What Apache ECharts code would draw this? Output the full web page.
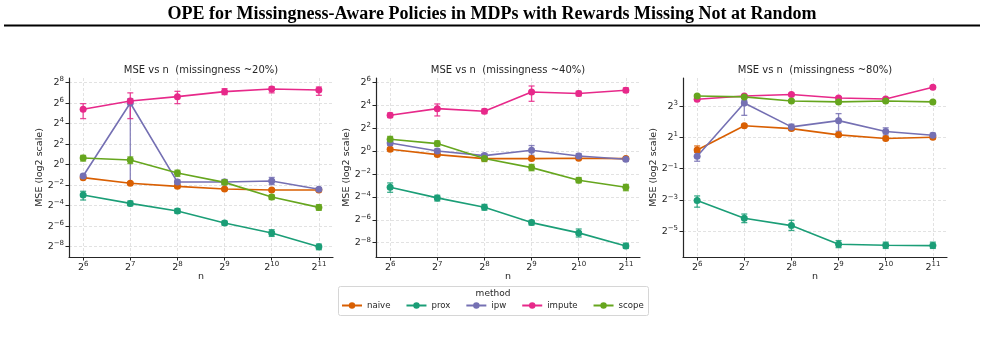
<!DOCTYPE html>
<html>
<head>
<meta charset="utf-8">
<title>OPE MSE vs n</title>
<script src="https://cdn.jsdelivr.net/npm/echarts@6/dist/echarts.min.js"></script>
<style>
    body { margin: 0; background: #fff; }
    #main { width: 985px; height: 351px; }
</style>
</head>
<body>
<div id="main"></div>
<script type="text/javascript">

// sample sizes (x axis, log2)
var nValues = [64, 128, 256, 512, 1024, 2048];
var methods = ['naive', 'prox', 'ipw', 'impute', 'scope'];
var colors = ['#d95f02', '#1b9e77', '#7570b3', '#e7298a', '#66a61e'];
var panelTitles = ['MSE vs n  (missingness ~20%)', 'MSE vs n  (missingness ~40%)', 'MSE vs n  (missingness ~80%)'];

// y tick exponents per panel
var yTicks20 = [-8, -6, -4, -2, 0, 2, 4, 6, 8];
var yTicks40 = [-8, -6, -4, -2, 0, 2, 4, 6];
var yTicks80 = [-5, -3, -1, 1, 3];
var xTicks = [6, 7, 8, 9, 10, 11];

// log2(MSE)
var naive20  = [-1.27, -1.82, -2.12, -2.38, -2.47, -2.47];
var prox20   = [-2.96, -3.78, -4.52, -5.69, -6.67, -8.0];
var ipw20    = [-1.11, 6.01, -1.7, -1.7, -1.6, -2.41];
var impute20 = [5.4, 6.2, 6.63, 7.12, 7.38, 7.28];
var scope20  = [0.65, 0.45, -0.82, -1.73, -3.16, -4.17];

var naive40  = [0.17, -0.29, -0.64, -0.64, -0.61, -0.64];
var prox40   = [-3.15, -4.08, -4.9, -6.24, -7.14, -8.28];
var ipw40    = [0.73, 0.03, -0.38, 0.09, -0.41, -0.7];
var impute40 = [3.15, 3.73, 3.5, 5.19, 5.05, 5.34];
var scope40  = [1.05, 0.67, -0.64, -1.43, -2.54, -3.15];

var naive80  = [0.2, 1.75, 1.57, 1.17, 0.94, 1.02];
var prox80   = [-3.04, -4.17, -4.64, -5.83, -5.9, -5.92];
var ipw80    = [-0.2, 3.21, 1.68, 2.08, 1.38, 1.14];
var impute80 = [3.45, 3.66, 3.75, 3.53, 3.47, 4.22];
var scope80  = [3.66, 3.6, 3.34, 3.28, 3.34, 3.28];

// error bars [low, high] in log2 units
var naive20Err  = [[-1.4, -1.15], [-1.95, -1.7], [-2.25, -2.0], [-2.5, -2.27], [-2.58, -2.37], [-2.58, -2.37]];
var prox20Err   = [[-3.45, -2.6], [-4.0, -3.55], [-4.75, -4.3], [-5.9, -5.5], [-7.0, -6.35], [-8.3, -7.75]];
var ipw20Err    = [[-1.3, -0.95], [-1.85, 6.44], [-1.9, -1.5], [-1.95, -1.45], [-1.95, -1.25], [-2.6, -2.25]];
var impute20Err = [[4.49, 5.95], [4.49, 7.0], [5.95, 7.15], [6.83, 7.41], [7.0, 7.6], [6.76, 7.57]];
var scope20Err  = [[0.35, 0.9], [0.1, 0.75], [-1.15, -0.55], [-1.95, -1.5], [-3.4, -2.95], [-4.45, -3.9]];

var naive40Err  = [[0.05, 0.3], [-0.42, -0.17], [-0.75, -0.53], [-0.75, -0.53], [-0.72, -0.5], [-0.75, -0.53]];
var prox40Err   = [[-3.59, -2.77], [-4.35, -3.85], [-5.15, -4.65], [-6.45, -6.05], [-7.5, -6.8], [-8.5, -8.05]];
var ipw40Err    = [[0.5, 0.95], [-0.15, 0.2], [-0.55, -0.2], [-0.35, 0.5], [-0.6, -0.2], [-0.85, -0.55]];
var impute40Err = [[2.95, 3.35], [3.09, 4.14], [3.3, 3.7], [4.37, 5.71], [4.85, 5.25], [5.15, 5.55]];
var scope40Err  = [[0.8, 1.3], [0.45, 0.9], [-0.9, -0.4], [-1.7, -1.15], [-2.75, -2.3], [-3.45, -2.9]];

var naive80Err  = [[0.04, 0.46], [1.65, 1.85], [1.47, 1.67], [1.07, 1.27], [0.84, 1.04], [0.92, 1.12]];
var prox80Err   = [[-3.46, -2.74], [-4.45, -3.9], [-4.95, -4.3], [-6.05, -5.6], [-6.1, -5.7], [-6.1, -5.7]];
var ipw80Err    = [[-0.52, 0.08], [2.42, 3.38], [1.5, 1.85], [1.4, 2.53], [1.15, 1.62], [1.0, 1.28]];
var impute80Err = [[3.37, 3.53], [3.58, 3.74], [3.67, 3.83], [3.45, 3.61], [3.39, 3.55], [4.14, 4.3]];
var scope80Err  = [[3.58, 3.74], [3.52, 3.68], [3.26, 3.42], [3.2, 3.36], [3.26, 3.42], [3.2, 3.36]];

var panelValues = [
    [naive20, prox20, ipw20, impute20, scope20],
    [naive40, prox40, ipw40, impute40, scope40],
    [naive80, prox80, ipw80, impute80, scope80]
];
var panelErrors = [
    [naive20Err, prox20Err, ipw20Err, impute20Err, scope20Err],
    [naive40Err, prox40Err, ipw40Err, impute40Err, scope40Err],
    [naive80Err, prox80Err, ipw80Err, impute80Err, scope80Err]
];
var panelYTicks = [yTicks20, yTicks40, yTicks80];
var panelYRange = [[-9.01, 8.45], [-9.25, 6.41], [-6.65, 4.81]];

// layout of the three axes boxes
var gridLeft = [69, 376, 683];
var gridWidth = 264;
var gridTop = 78;
var gridHeight = 179;

var font = 'DejaVu Sans';
var textColor = '#262626';

function powLabel(v) {
    var e = Math.round(v);
    var s = e < 0 ? '\u2212' + (-e) : '' + e;
    return '2{s|' + s + '}';
}

var labelStyle = {
    color: textColor,
    fontFamily: font,
    fontSize: 9.5,
    lineHeight: 13,
    formatter: powLabel,
    rich: { s: { fontSize: 7, lineHeight: 5, verticalAlign: 'top', fontFamily: font, color: textColor } }
};

function renderErr(params, api) {
    var x = api.value(0);
    var p1 = api.coord([x, api.value(1)]);
    var p2 = api.coord([x, api.value(2)]);
    var st = { stroke: api.visual('color'), lineWidth: 1.3, opacity: 0.85 };
    return {
        type: 'group',
        children: [
            { type: 'line', shape: { x1: p1[0], y1: p1[1], x2: p2[0], y2: p2[1] }, style: st },
            { type: 'line', shape: { x1: p1[0] - 3, y1: p1[1], x2: p1[0] + 3, y2: p1[1] }, style: st },
            { type: 'line', shape: { x1: p2[0] - 3, y1: p2[1], x2: p2[0] + 3, y2: p2[1] }, style: st }
        ]
    };
}

var grids = [], xAxes = [], yAxes = [], series = [], graphics = [];

for (var p = 0; p < 3; p++) {
    grids.push({ left: gridLeft[p], top: gridTop, width: gridWidth, height: gridHeight });
    xAxes.push({
        type: 'value', gridIndex: p, min: 5.7, max: 11.3,
        name: 'n', nameLocation: 'middle', nameGap: 15, nameMoveOverlap: false,
        nameTextStyle: { color: textColor, fontFamily: font, fontSize: 9.5 },
        axisLine: { onZero: false, lineStyle: { color: '#262626', width: 1.2 } },
        axisTick: { length: 3.5, customValues: xTicks, lineStyle: { color: '#262626' } },
        axisLabel: Object.assign({ customValues: xTicks, margin: 4 }, labelStyle),
        splitLine: { show: true, lineStyle: { color: '#dadada', type: [3, 2], width: 0.8 } }
    });
    yAxes.push({
        type: 'value', gridIndex: p, min: panelYRange[p][0], max: panelYRange[p][1],
        name: 'MSE (log2 scale)', nameLocation: 'middle', nameGap: 24, nameMoveOverlap: false,
        nameTextStyle: { color: textColor, fontFamily: font, fontSize: 9.5 },
        axisLine: { show: true, onZero: false, lineStyle: { color: '#262626', width: 1.2 } },
        axisTick: { show: true, length: 3.5, customValues: panelYTicks[p], lineStyle: { color: '#262626' } },
        axisLabel: Object.assign({ customValues: panelYTicks[p], margin: 5 }, labelStyle),
        splitLine: { show: true, lineStyle: { color: '#dadada', type: [3, 2], width: 0.8 } }
    });
    graphics.push({
        type: 'text', x: gridLeft[p] + gridWidth / 2, y: 70,
        style: { text: panelTitles[p], fill: textColor, font: '10px "' + font + '"', textAlign: 'center', textVerticalAlign: 'middle' }
    });

    for (var m = 0; m < methods.length; m++) {
        var vals = panelValues[p][m];
        var errs = panelErrors[p][m];
        var lineData = [], errData = [];
        for (var i = 0; i < nValues.length; i++) {
            var lx = Math.log2(nValues[i]);
            lineData.push([lx, vals[i]]);
            errData.push([lx, errs[i][0], errs[i][1]]);
        }
        series.push({
            name: methods[m] + ' err', type: 'custom', xAxisIndex: p, yAxisIndex: p,
            renderItem: renderErr, encode: { x: 0, y: [1, 2] },
            itemStyle: { color: colors[m] }, data: errData, z: 3
        });
        series.push({
            name: methods[m], type: 'line', xAxisIndex: p, yAxisIndex: p,
            data: lineData, symbol: 'circle', symbolSize: 7, showSymbol: true,
            color: colors[m], lineStyle: { width: 1.6 }, itemStyle: { color: colors[m] },
            z: 4, animation: false
        });
    }
}

// figure title and rule
graphics.push({
    type: 'text', x: 492, y: 14,
    style: { text: 'OPE for Missingness-Aware Policies in MDPs with Rewards Missing Not at Random',
             fill: '#000', font: 'bold 18px "Liberation Serif"', textAlign: 'center', textVerticalAlign: 'middle' }
});
graphics.push({ type: 'rect', shape: { x: 4, y: 24.5, width: 976, height: 2 }, style: { fill: '#000' } });

// legend frame and title
graphics.push({ type: 'rect', z: -1, shape: { x: 338.5, y: 286.5, width: 310, height: 29, r: 2 }, style: { fill: '#fff', stroke: '#d6d6d6', lineWidth: 1 } });
graphics.push({
    type: 'text', x: 493, y: 294,
    style: { text: 'method', fill: textColor, font: '9px "' + font + '"', textAlign: 'center', textVerticalAlign: 'middle' }
});

var myChart = echarts.init(document.getElementById('main'), null, { renderer: 'canvas' });
myChart.setOption({
    animation: false,
    backgroundColor: '#fff',
    grid: grids,
    xAxis: xAxes,
    yAxis: yAxes,
    legend: {
        data: methods, left: 341, top: 301, padding: 0, itemWidth: 20, itemHeight: 8, itemGap: 15,
        textStyle: { color: textColor, fontFamily: font, fontSize: 8.6 }
    },
    graphic: graphics,
    series: series
});
</script>
</body>
</html>
